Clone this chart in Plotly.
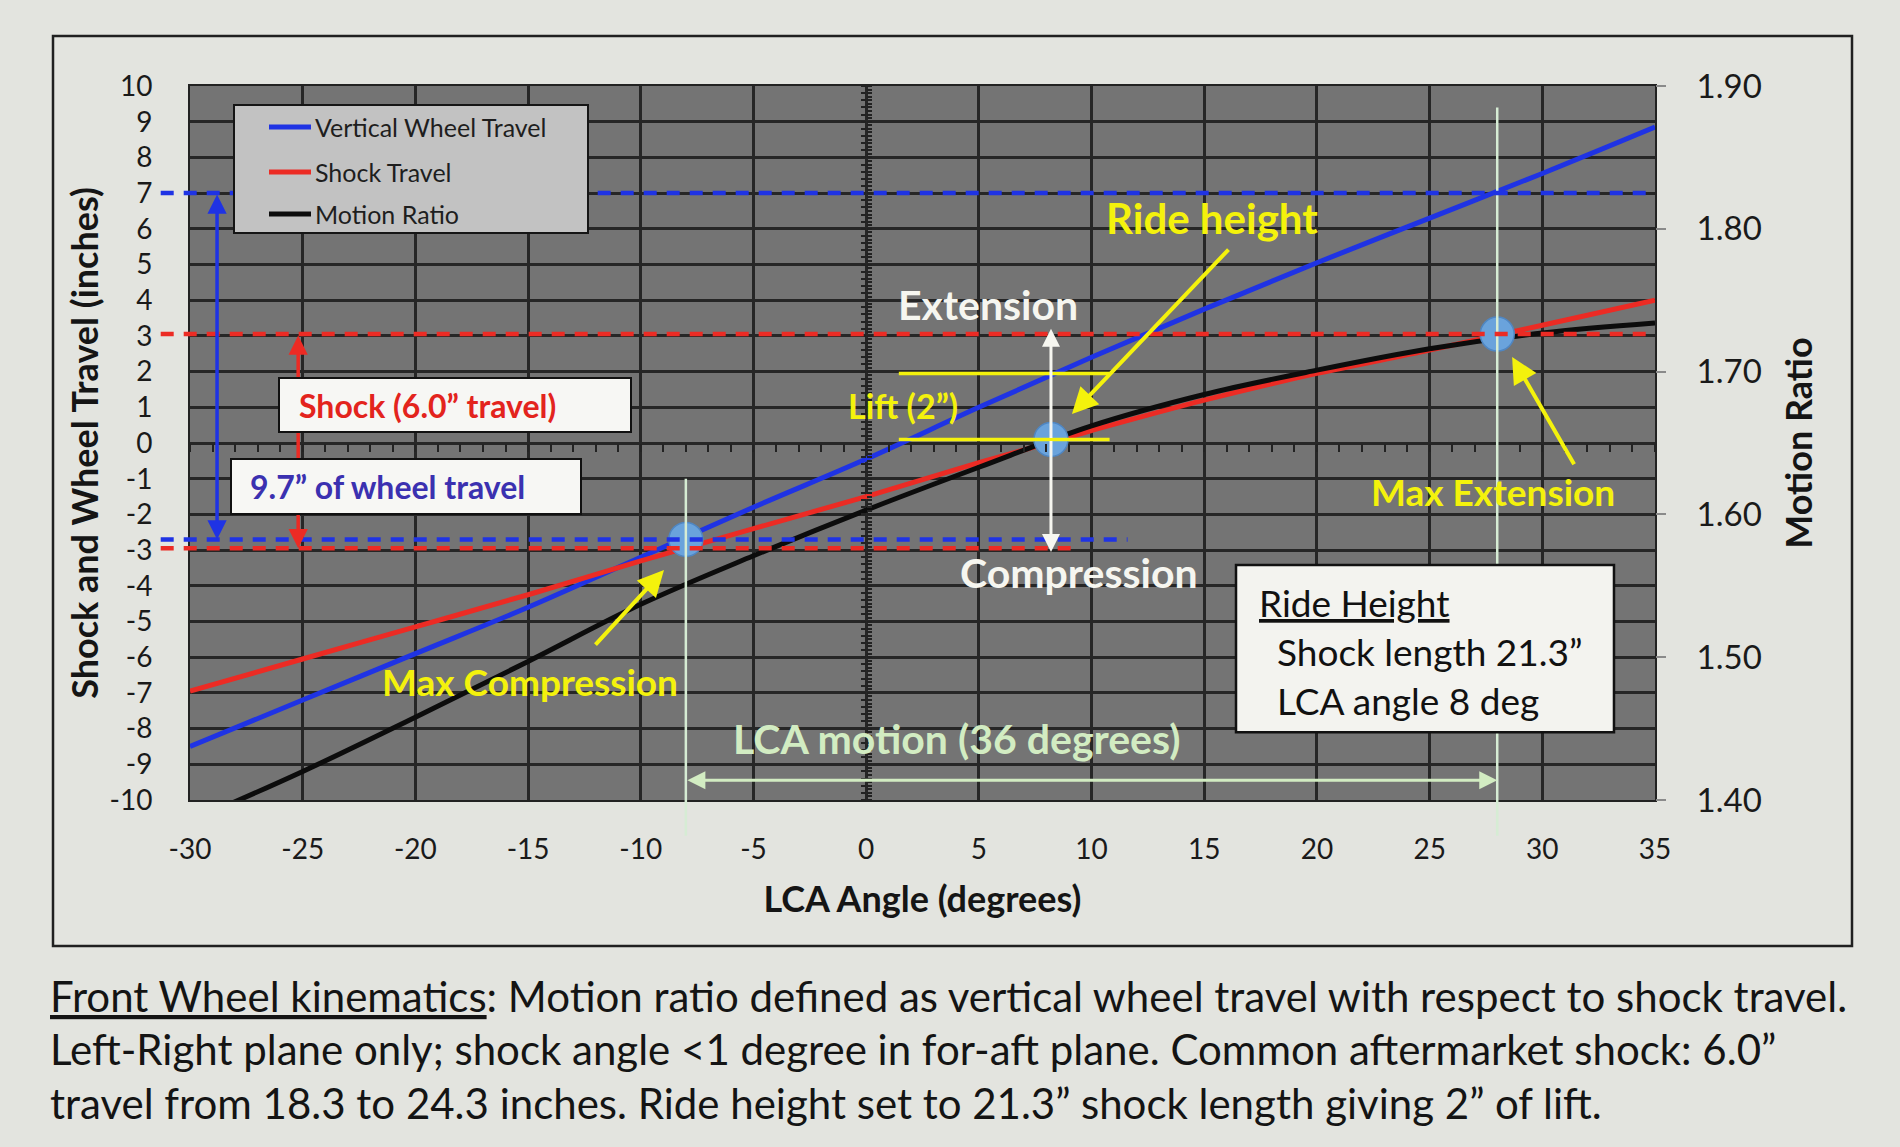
import plotly.graph_objects as go

# ---------------- data ----------------
angle = [-30, -25, -20, -15, -10, -5, 0, 5, 10, 15, 20, 25, 30, 35]
wheel_travel = [-8.5, -7.2, -5.9, -4.6, -3.2, -1.8, -0.45, 1.0, 2.4, 3.75, 5.05, 6.3, 7.55, 8.85]
shock_travel = [-6.95, -6.05, -5.15, -4.25, -3.3, -2.4, -1.5, -0.55, 0.35, 1.2, 1.95, 2.6, 3.3, 4.0]
motion_ratio = [1.385, 1.42, 1.458, 1.497, 1.537, 1.571, 1.603, 1.633, 1.662, 1.684, 1.701, 1.716, 1.727, 1.734]

series_names = ["Vertical Wheel Travel", "Shock Travel", "Motion Ratio"]

key_names = ["Max Compression", "Ride height", "Max Extension"]
key_angle = [-8.0, 8.2, 28.0]
key_travel = [-2.7, 0.1, 3.05]

wheel_ext, wheel_comp = 7.0, -2.7
shock_ext, shock_comp = 3.05, -2.95
lift_levels = [1.95, 0.1]
lift_span = [1.45, 10.8]

x_ticks = [-30, -25, -20, -15, -10, -5, 0, 5, 10, 15, 20, 25, 30, 35]
y_ticks = list(range(-10, 11))
mr_ticks = [1.40, 1.50, 1.60, 1.70, 1.80, 1.90]
x_range = [-30, 35]
y_range = [-10, 10]
mr_range = [1.40, 1.90]

# ---------------- geometry ----------------
W, H = 1900, 1147
L, R, T, B = 190, 1655, 86, 800
FONT = "Lato, Open Sans, sans-serif"


def fx(px):
    return (px - L) / (R - L)


def fy(py):
    return (B - py) / (B - T)


def paper_x(v):
    return (v - x_range[0]) / (x_range[1] - x_range[0])


def paper_y(v):
    return (v - y_range[0]) / (y_range[1] - y_range[0])


BLUE = "#1f33e4"
RED = "#ec2b24"
BLACK = "#0c0c0c"
YELLOW = "#f4f20c"
WHITE = "#f6f6f0"
GREEN = "#d2ecc2"
VLINE = "#d6ecd4"
series_colors = [BLUE, RED, BLACK]

fig = go.Figure()
fig.add_trace(go.Scatter(x=angle, y=wheel_travel, name=series_names[0], mode="lines",
                         line=dict(color=BLUE, width=5, shape="spline")))
fig.add_trace(go.Scatter(x=angle, y=shock_travel, name=series_names[1], mode="lines",
                         line=dict(color=RED, width=5, shape="spline")))
fig.add_trace(go.Scatter(x=angle, y=motion_ratio, name=series_names[2], mode="lines", yaxis="y2",
                         line=dict(color=BLACK, width=5, shape="spline")))
fig.add_trace(go.Scatter(x=key_angle, y=key_travel, text=key_names, mode="markers", xaxis="x2", yaxis="y3",
                         marker=dict(size=34, color="#6aa3dc", line=dict(color="#4f86c2", width=1.5)),
                         hoverinfo="text"))

shapes = []
# pale vertical marker lines (extend below axis)
shapes.append(dict(type="line", xref="x", yref="paper", x0=key_angle[0], x1=key_angle[0],
                   y0=paper_y(-1.0), y1=-0.05, line=dict(color=VLINE, width=2.5)))
shapes.append(dict(type="line", xref="x", yref="paper", x0=key_angle[2], x1=key_angle[2],
                   y0=paper_y(9.4), y1=-0.05, line=dict(color=VLINE, width=2.5)))
# dashed reference lines
dash = "13px,10px"
shapes.append(dict(type="line", xref="paper", yref="y", x0=-0.02, x1=1, y0=wheel_ext, y1=wheel_ext,
                   line=dict(color=BLUE, width=4.5, dash=dash)))
shapes.append(dict(type="line", xref="paper", yref="y", x0=-0.02, x1=1, y0=shock_ext, y1=shock_ext,
                   line=dict(color=RED, width=4.5, dash=dash)))
shapes.append(dict(type="line", xref="paper", yref="y", x0=-0.02, x1=paper_x(9.4), y0=shock_comp, y1=shock_comp,
                   line=dict(color=RED, width=4.5, dash=dash)))
shapes.append(dict(type="line", xref="paper", yref="y", x0=-0.02, x1=paper_x(11.6), y0=wheel_comp, y1=wheel_comp,
                   line=dict(color=BLUE, width=4.5, dash=dash)))
# lift lines
for lv in lift_levels:
    shapes.append(dict(type="line", xref="x", yref="y", x0=lift_span[0], x1=lift_span[1], y0=lv, y1=lv,
                       line=dict(color=YELLOW, width=3.5)))
# ride height box
shapes.append(dict(type="rect", xref="x", yref="y", x0=16.41, x1=33.18, y0=-3.42, y1=-8.10,
                   fillcolor="#f3f3ef", line=dict(color="#111111", width=2.5)))
# legend box + samples
shapes.append(dict(type="rect", xref="paper", yref="paper", x0=fx(234), x1=fx(588), y0=fy(233), y1=fy(105),
                   fillcolor="#c2c2c2", line=dict(color="#151515", width=2)))
legend_rows = [127, 172, 214]
for col, py in zip(series_colors, legend_rows):
    shapes.append(dict(type="line", xref="paper", yref="paper", x0=fx(269), x1=fx(311), y0=fy(py), y1=fy(py),
                       line=dict(color=col, width=5)))
# outer frame
shapes.append(dict(type="rect", xref="paper", yref="paper", x0=fx(53), x1=fx(1852), y0=fy(946), y1=fy(36),
                   line=dict(color="#202020", width=2.5)))


def arrow(x0, y0, x1, y1, color, width, both=False, head=2, size=1.0):
    return dict(x=x1, y=y1, ax=x0, ay=y0, xref="x", yref="y", axref="x", ayref="y", text="",
                showarrow=True, arrowhead=head, startarrowhead=head,
                arrowside="end+start" if both else "end", arrowcolor=color,
                arrowwidth=width, arrowsize=size, startarrowsize=size, standoff=0, startstandoff=0)


def label(x, y, text, color, size, bold=True, xanchor="center"):
    return dict(x=x, y=y, xref="x", yref="y", text=text, showarrow=False, xanchor=xanchor,
                yanchor="middle", font=dict(family=FONT, size=size, color=color,
                                            weight="bold" if bold else "normal"))


ann = []
# legend texts
for name, py in zip(series_names, legend_rows):
    ann.append(dict(x=fx(313), y=fy(py), xref="paper", yref="paper", text=name, showarrow=False,
                    xanchor="left", yanchor="middle", font=dict(family=FONT, size=25, color="#1e1e1e")))
# travel arrows (drawn under the white boxes)
ann.append(arrow(-25.2, shock_ext, -25.2, shock_comp, RED, 3.5, both=True, size=1.1))
ann.append(arrow(-28.8, wheel_ext, -28.8, wheel_comp, BLUE, 3.5, both=True, size=1.1))
# white boxes
ann.append(dict(x=-18.24, y=1.06, xref="x", yref="y", text="\u00a0", showarrow=False,
                width=350, height=52, bgcolor="#f7f7f4", bordercolor="#111111", borderwidth=2, borderpad=0))
ann.append(dict(x=-20.42, y=-1.22, xref="x", yref="y", text="\u00a0", showarrow=False,
                width=348, height=53, bgcolor="#f7f7f4", bordercolor="#111111", borderwidth=2, borderpad=0))
ann.append(label(-25.25, 1.06, "Shock (6.0\u201d travel)", "#e3241d", 32, xanchor="left"))
ann.append(label(-27.43, -1.22, "9.7\u201d of wheel travel", "#3b31b0", 32, xanchor="left"))
# LCA motion arrow
ann.append(arrow(key_angle[0], -9.45, key_angle[2], -9.45, GREEN, 3, both=True, size=1.2))
# extension / compression arrows
ann.append(arrow(key_angle[1], key_travel[1], key_angle[1], 3.2, WHITE, 3, size=1.2))
ann.append(arrow(key_angle[1], key_travel[1], key_angle[1], -3.05, WHITE, 3, size=1.2))
# yellow pointer arrows
ann.append(arrow(16.14, 5.46, 9.13, 0.81, YELLOW, 4, size=1.3))
ann.append(arrow(-12.07, -5.69, -8.97, -3.56, YELLOW, 4, size=1.3))
ann.append(arrow(31.45, -0.64, 28.66, 2.41, YELLOW, 4, size=1.3))
# text labels
ann.append(label(15.35, 6.3, "Ride height", YELLOW, 42))
ann.append(label(5.4, 3.87, "Extension", WHITE, 41))
ann.append(label(9.45, -3.64, "Compression", WHITE, 41))
ann.append(label(1.64, 1.04, "Lift (2\u201d)", YELLOW, 34))
ann.append(label(-14.9, -6.67, "Max Compression", YELLOW, 37))
ann.append(label(27.8, -1.37, "Max Extension", YELLOW, 37))
ann.append(label(4.03, -8.29, "LCA motion (36 degrees)", GREEN, 41))
# ride height box text
ann.append(label(17.34, -4.48, "<u>Ride Height</u>", "#111111", 37, bold=False, xanchor="left"))
ann.append(label(18.14, -5.83, "Shock length 21.3\u201d", "#111111", 37, bold=False, xanchor="left"))
ann.append(label(18.14, -7.2, "LCA angle 8 deg", "#111111", 37, bold=False, xanchor="left"))

# caption
caption = [
    "<u>Front Wheel kinematics</u>: Motion ratio defined as vertical wheel travel with respect to shock travel.",
    "Left-Right plane only; shock angle &lt;1 degree in for-aft plane. Common aftermarket shock: 6.0\u201d",
    "travel from 18.3 to 24.3 inches. Ride height set to 21.3\u201d shock length giving 2\u201d of lift.",
]
for text, py in zip(caption, [996, 1049, 1103]):
    ann.append(dict(x=fx(48), y=fy(py), xref="paper", yref="paper", text=text,
                    showarrow=False, xanchor="left", yanchor="middle",
                    font=dict(family=FONT, size=42, color="#141414")))

axis_font = dict(family=FONT, size=28, color="#1a1a1a")
title_font = dict(family=FONT, size=36, color="#151515", weight="bold")

fig.update_layout(
    width=W, height=H,
    margin=dict(l=L, r=W - R, t=T, b=H - B),
    paper_bgcolor="#e3e4df",
    plot_bgcolor="#747474",
    font=dict(family=FONT),
    shapes=shapes,
    annotations=ann,
    showlegend=False,
    xaxis=dict(range=x_range, tickvals=x_ticks, ticktext=[str(v) for v in x_ticks],
               showgrid=True, gridcolor="#262626", gridwidth=2.5,
               zeroline=False, showline=True, linecolor="#222222", linewidth=2, mirror=True,
               ticks="", tickfont=axis_font, ticklabelstandoff=23,
               title=dict(text="LCA Angle (degrees)", font=title_font, standoff=23)),
    yaxis=dict(range=y_range, tickvals=y_ticks, ticktext=[str(v) for v in y_ticks],
               showgrid=True, gridcolor="#262626", gridwidth=2.5,
               zeroline=False, showline=True, linecolor="#222222", linewidth=2, mirror=True,
               ticks="", tickfont=axis_font, ticklabelstandoff=30,
               title=dict(text="Shock and Wheel Travel (inches)", font=title_font, standoff=0)),
    yaxis2=dict(range=mr_range, tickvals=mr_ticks, tickformat=".2f", overlaying="y", side="right",
                showgrid=False, zeroline=False, ticks="outside", ticklen=10, tickwidth=2, tickcolor="#8a8a8a",
                tickfont=dict(family=FONT, size=33, color="#1a1a1a"), ticklabelstandoff=24,
                title=dict(text="Motion Ratio", font=title_font, standoff=25)),
    xaxis2=dict(range=x_range, overlaying="x", anchor="free", position=paper_y(0), dtick=1,
                ticks="outside", ticklen=8, tickwidth=2, tickcolor="#222222", showticklabels=False,
                showgrid=False, zeroline=False, showline=False),
    yaxis3=dict(range=y_range, overlaying="y", anchor="free", position=paper_x(0), side="left",
                dtick=0.2, ticks="outside", ticklen=5, tickwidth=1.5, tickcolor="#222222",
                minor=dict(dtick=0.1, ticks="inside", ticklen=5, tickwidth=1.5, tickcolor="#222222"),
                showticklabels=False, showgrid=False, zeroline=False, showline=False),
)

fig.write_html("out.html")
